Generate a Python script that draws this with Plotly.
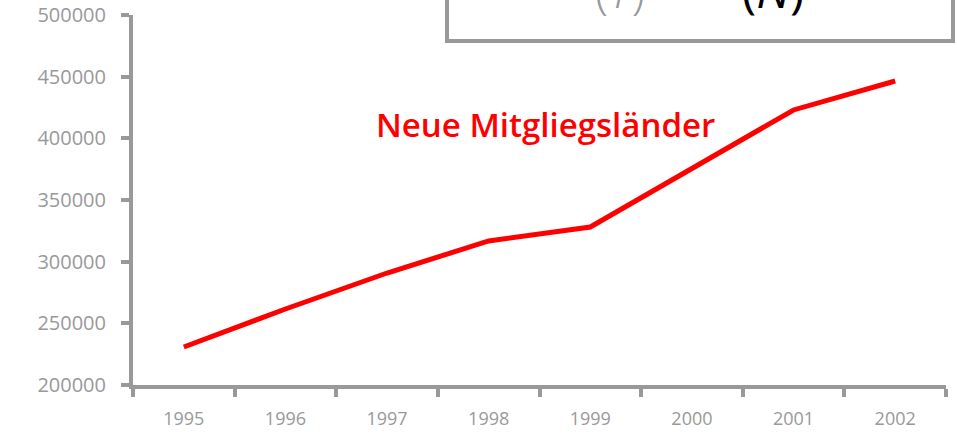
import plotly.graph_objects as go

years = ["1995", "1996", "1997", "1998", "1999", "2000", "2001", "2002"]
values = [230800, 261600, 290800, 316800, 328100, 375500, 423000, 446500]
y_ticks = [200000, 250000, 300000, 350000, 400000, 450000, 500000]
series_label = "Neue Mitgliegsländer"

GREY = "#999999"
RED = "#ff0000"
FONT = "Open Sans, Lato, sans-serif"

L, R, T, B = 133, 11, 15, 49
W, H = 957, 434
PW, PH = W - L - R, H - T - B


def px(x):
    return (x - L) / PW


def py(y):
    return (H - B - y) / PH


fig = go.Figure()
fig.add_trace(go.Scatter(
    x=years, y=values, mode="lines",
    line=dict(color=RED, width=5),
    hoverinfo="skip", showlegend=False,
))

fig.update_layout(
    width=W, height=H,
    margin=dict(l=L, r=R, t=T, b=B, autoexpand=False),
    paper_bgcolor="white", plot_bgcolor="white",
    showlegend=False,
    xaxis=dict(
        type="category", categoryorder="array", categoryarray=years,
        tickson="boundaries", ticks="outside", ticklen=8, tickwidth=4, tickcolor=GREY,
        showline=True, linewidth=4, linecolor=GREY, showgrid=False, zeroline=False,
        tickfont=dict(family=FONT, size=18, color=GREY, weight=500),
        ticklabelstandoff=14, automargin=False,
        range=[-0.5, len(years) - 0.5],
    ),
    yaxis=dict(
        range=[200000, 500000], tickvals=y_ticks,
        ticktext=[str(v) for v in y_ticks],
        ticks="outside", ticklen=8, tickwidth=4, tickcolor=GREY,
        showline=True, linewidth=4, linecolor=GREY, showgrid=False, zeroline=False,
        tickfont=dict(family=FONT, size=20, color=GREY, weight=500),
        ticklabelstandoff=11, automargin=False,
    ),
)

fig.add_annotation(
    x=px(545), y=py(124), xref="paper", yref="paper",
    text=series_label, showarrow=False,
    font=dict(family=FONT, size=33, color=RED, weight=600),
    xanchor="center", yanchor="middle",
)

# partially visible box at top
fig.add_shape(
    type="rect", xref="paper", yref="paper",
    x0=px(447), x1=px(953),
    y0=py(41), y1=py(-20),
    line=dict(color=GREY, width=4), fillcolor="white", layer="above",
)
fig.add_annotation(
    xref="paper", yref="paper", x=px(620), y=py(-11),
    text="(<i>Y</i>)", showarrow=False, xanchor="center", yanchor="middle",
    font=dict(family=FONT, size=48, color=GREY, weight=300),
)
fig.add_annotation(
    xref="paper", yref="paper", x=px(773), y=py(-11),
    text="(<i>N</i>)", showarrow=False, xanchor="center", yanchor="middle",
    font=dict(family=FONT, size=48, color="black", weight=400),
)

fig.write_html("out.html", config={"displayModeBar": False},
               post_script="document.body.style.margin='0';")
